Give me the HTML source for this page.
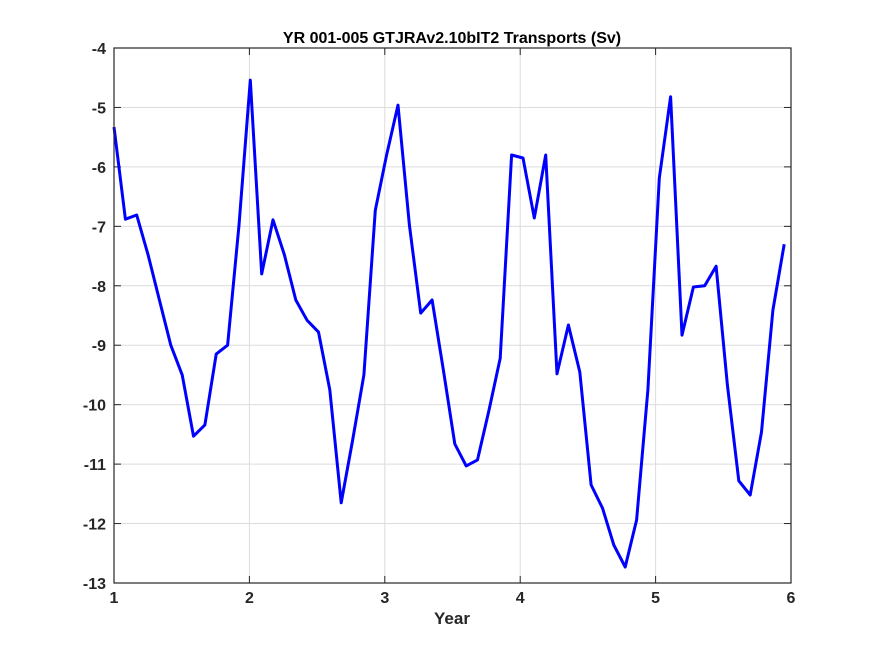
<!DOCTYPE html>
<html><head><meta charset="utf-8"><style>
body{margin:0;background:#fff;}
svg{display:block;font-family:"Liberation Sans",sans-serif;font-weight:bold;}
</style></head><body>
<svg id="chart" width="875" height="656">
<rect x="0" y="0" width="875" height="656" fill="#fff"/>
<rect x="114" y="48" width="677" height="535" fill="#fff"/>
<g id="grid"></g><g id="ticks"></g>
<path id="line" fill="none" stroke="#0000ff" stroke-width="3" stroke-linejoin="round"/>
<rect x="114" y="48" width="677" height="535" fill="none" stroke="#262626" stroke-width="1.2"/>
<text x="452" y="43" text-anchor="middle" font-size="16" fill="#000">YR 001-005 GTJRAv2.10bIT2 Transports (Sv)</text>
<text x="452" y="624" text-anchor="middle" font-size="17" fill="#262626">Year</text>
</svg>
<script>
const xTicks=[1,2,3,4,5,6];
const yTicks=[-4,-5,-6,-7,-8,-9,-10,-11,-12,-13];
const values=[-5.33,-6.88,-6.81,-7.48,-8.24,-9.0,-9.5,-10.53,-10.34,-9.15,-9.0,-6.98,-4.54,-7.80,-6.89,-7.48,-8.24,-8.58,-8.78,-9.75,-11.65,-10.6,-9.5,-6.73,-5.8,-4.96,-6.98,-8.46,-8.24,-9.42,-10.66,-11.03,-10.93,-10.1,-9.22,-5.80,-5.85,-6.86,-5.8,-9.48,-8.66,-9.45,-11.35,-11.74,-12.36,-12.73,-11.94,-9.75,-6.19,-4.82,-8.83,-8.02,-8.0,-7.67,-9.67,-11.28,-11.52,-10.46,-8.41,-7.30];
const xStart=1, xStep=4.95/59;
const X=v=>114+(v-1)/5*677;
const Y=v=>48+(-4-v)/9*535;
const NS='http://www.w3.org/2000/svg';
const grid=document.getElementById('grid'),ticks=document.getElementById('ticks');
function mk(tag,attrs,parent){const e=document.createElementNS(NS,tag);for(const k in attrs)e.setAttribute(k,attrs[k]);parent.appendChild(e);return e;}
xTicks.forEach(t=>{
 const x=X(t);
 const g=mk('line',{x1:x,x2:x,y1:48,y2:583,stroke:'#dcdcdc','stroke-width':1},grid);
 
 
 const a=mk('line',{x1:x,x2:x,y1:583,y2:576,stroke:'#262626'},ticks);
 
 
 const b=mk('line',{x1:x,x2:x,y1:48,y2:55,stroke:'#262626'},ticks);
 
 
 const l=mk('text',{x:x,y:603,'text-anchor':'middle','font-size':16,fill:'#262626'},ticks);
 l.textContent=t;
 
 
});
yTicks.forEach(t=>{
 const y=Y(t);
 const g=mk('line',{x1:114,x2:791,y1:y,y2:y,stroke:'#dcdcdc','stroke-width':1},grid);
 
 
 const a=mk('line',{x1:114,x2:121,y1:y,y2:y,stroke:'#262626'},ticks);
 
 
 const b=mk('line',{x1:784,x2:791,y1:y,y2:y,stroke:'#262626'},ticks);
 
 
 const l=mk('text',{x:106,y:y+6,'text-anchor':'end','font-size':16,fill:'#262626'},ticks);
 l.textContent=t;
 
 
});
document.getElementById('line').setAttribute('d',values.map((v,i)=>(i?'L':'M')+X(xStart+i*xStep).toFixed(1)+','+Y(v).toFixed(1)).join(''));
</script>
</body></html>
